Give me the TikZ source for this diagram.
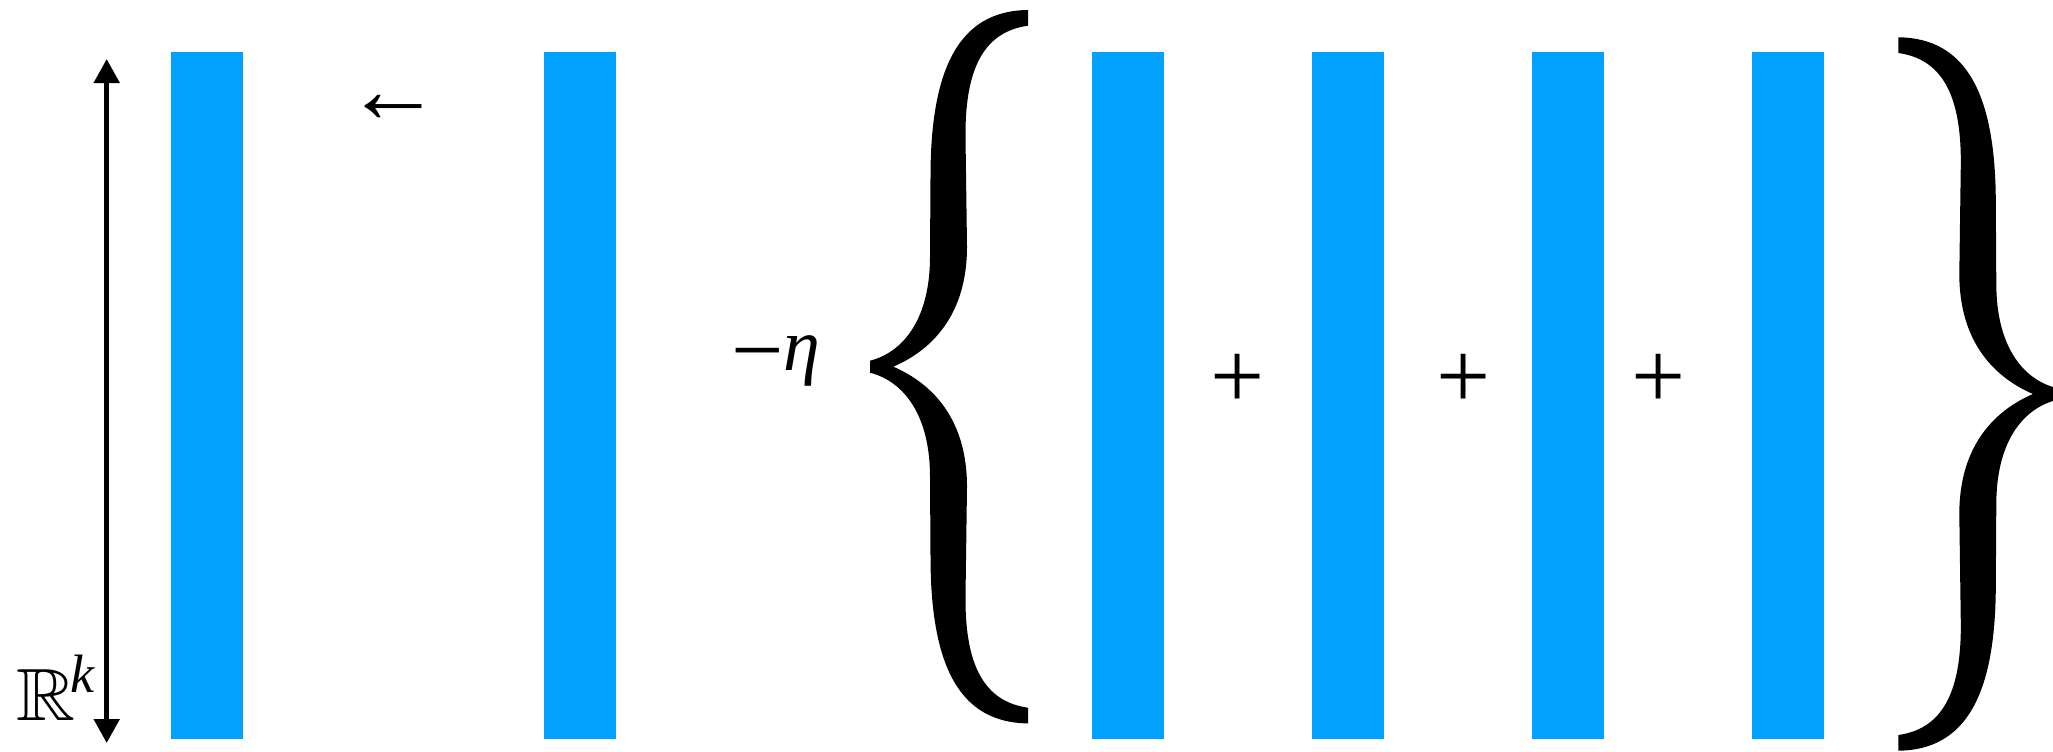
\documentclass[tikz,border=0pt]{standalone}
\usepackage{fontspec}
\usepackage{amssymb}
\usepackage{graphicx}
\newfontfamily\lserif{Liberation Serif}
\usetikzlibrary{arrows.meta}
\definecolor{barblue}{RGB}{0,161,255}
\tikzset{
  bar/.style={fill=barblue, draw=none, inner sep=0pt, minimum width=72pt, minimum height=687pt, anchor=north west},
  lbl/.style={inner sep=0pt},
  axarrow/.style={line width=5pt, {Triangle[length=24pt,width=25pt]}-{Triangle[length=24pt,width=25pt]}},
  bracepic/.pic={
    \fill (0,-6) .. controls (35,-15) and (60,-50) .. (60,-110)
      -- (60.5,-190) .. controls (60.5,-300) and (90,-356) .. (158,-356.7)
      -- (158,-341) .. controls (115,-335) and (95,-300) .. (95.5,-230)
      -- (97,-120) .. controls (97,-55) and (65,-18) .. (23.3,0)
      .. controls (65,18) and (97,55) .. (97,120)
      -- (95.5,230) .. controls (95,300) and (115,335) .. (158,341)
      -- (158,356.7) .. controls (90,356) and (60.5,300) .. (60.5,190)
      -- (60,110) .. controls (60,50) and (35,15) .. (0,6) -- cycle;
  }
}
\begin{document}
\begin{tikzpicture}[x=1pt,y=-1pt]
\useasboundingbox (0,0) rectangle (2053,752);
% bars
\node[bar] (b1) at (171,52) {};
\node[bar] (b2) at (544,52) {};
\node[bar] (b3) at (1092,52) {};
\node[bar] (b4) at (1312,52) {};
\node[bar] (b5) at (1532,52) {};
\node[bar] (b6) at (1752,52) {};
% axis arrow
\coordinate (atop) at (106.7,59);
\coordinate (abot) at (106.7,743);
\draw[axarrow] (atop) -- (abot);
\node[lbl, anchor=base west] (rk) at (16,720) {\resizebox{59pt}{51pt}{$\mathbb{R}$}\hspace{-5pt}\raisebox{28pt}{\fontsize{54}{54}\selectfont\lserif\itshape k}};
% left arrow
\node[lbl, anchor=center] (larr) at (393,109) {\fontsize{96}{96}\selectfont\lserif ←};
% -eta
\node[lbl, anchor=base west] (eta) at (731,370) {\lserif\fontsize{93}{93}\selectfont\raisebox{-11pt}{−}\fontsize{74}{74}\selectfont\itshape η};
% braces
\pic (lbrace) at (870,366.7) {bracepic};
\pic[xscale=-1] (rbrace) at (2056.3,394) {bracepic};
% plus signs
\node[lbl, anchor=center] (p1) at (1238,381) {\fontsize{96}{96}\selectfont\lserif +};
\node[lbl, anchor=center] (p2) at (1463.7,381) {\fontsize{96}{96}\selectfont\lserif +};
\node[lbl, anchor=center] (p3) at (1659,381) {\fontsize{96}{96}\selectfont\lserif +};
\end{tikzpicture}
\end{document}
